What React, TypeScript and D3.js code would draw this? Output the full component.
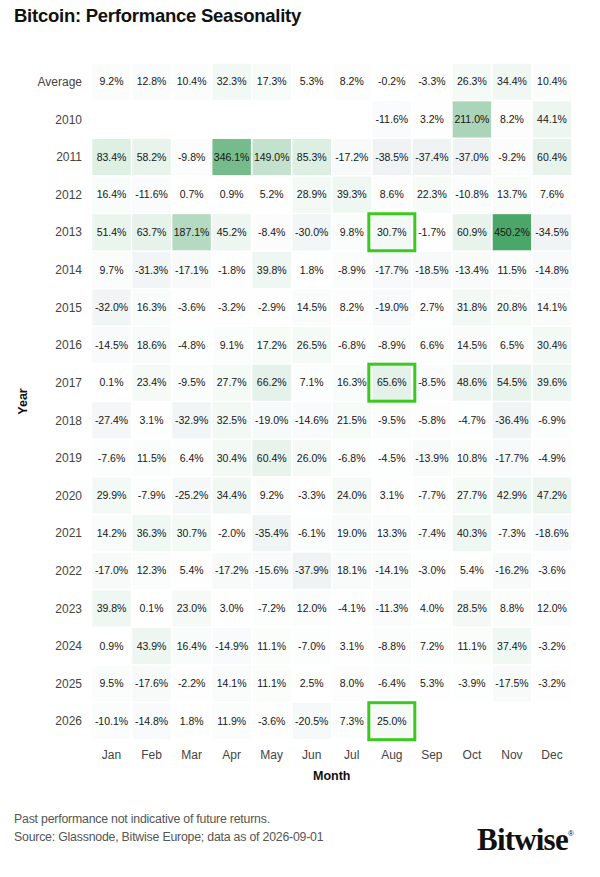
import React from "react";
import * as d3 from "d3";

const months = ["Jan", "Feb", "Mar", "Apr", "May", "Jun", "Jul", "Aug", "Sep", "Oct", "Nov", "Dec"];
const rowLabels = ["Average", "2010", "2011", "2012", "2013", "2014", "2015", "2016", "2017", "2018", "2019", "2020", "2021", "2022", "2023", "2024", "2025", "2026"];

type V = number | null;
const average: V[] = [9.2, 12.8, 10.4, 32.3, 17.3, 5.3, 8.2, -0.2, -3.3, 26.3, 34.4, 10.4];
const y2010: V[] = [null, null, null, null, null, null, null, -11.6, 3.2, 211.0, 8.2, 44.1];
const y2011: V[] = [83.4, 58.2, -9.8, 346.1, 149.0, 85.3, -17.2, -38.5, -37.4, -37.0, -9.2, 60.4];
const y2012: V[] = [16.4, -11.6, 0.7, 0.9, 5.2, 28.9, 39.3, 8.6, 22.3, -10.8, 13.7, 7.6];
const y2013: V[] = [51.4, 63.7, 187.1, 45.2, -8.4, -30.0, 9.8, 30.7, -1.7, 60.9, 450.2, -34.5];
const y2014: V[] = [9.7, -31.3, -17.1, -1.8, 39.8, 1.8, -8.9, -17.7, -18.5, -13.4, 11.5, -14.8];
const y2015: V[] = [-32.0, 16.3, -3.6, -3.2, -2.9, 14.5, 8.2, -19.0, 2.7, 31.8, 20.8, 14.1];
const y2016: V[] = [-14.5, 18.6, -4.8, 9.1, 17.2, 26.5, -6.8, -8.9, 6.6, 14.5, 6.5, 30.4];
const y2017: V[] = [0.1, 23.4, -9.5, 27.7, 66.2, 7.1, 16.3, 65.6, -8.5, 48.6, 54.5, 39.6];
const y2018: V[] = [-27.4, 3.1, -32.9, 32.5, -19.0, -14.6, 21.5, -9.5, -5.8, -4.7, -36.4, -6.9];
const y2019: V[] = [-7.6, 11.5, 6.4, 30.4, 60.4, 26.0, -6.8, -4.5, -13.9, 10.8, -17.7, -4.9];
const y2020: V[] = [29.9, -7.9, -25.2, 34.4, 9.2, -3.3, 24.0, 3.1, -7.7, 27.7, 42.9, 47.2];
const y2021: V[] = [14.2, 36.3, 30.7, -2.0, -35.4, -6.1, 19.0, 13.3, -7.4, 40.3, -7.3, -18.6];
const y2022: V[] = [-17.0, 12.3, 5.4, -17.2, -15.6, -37.9, 18.1, -14.1, -3.0, 5.4, -16.2, -3.6];
const y2023: V[] = [39.8, 0.1, 23.0, 3.0, -7.2, 12.0, -4.1, -11.3, 4.0, 28.5, 8.8, 12.0];
const y2024: V[] = [0.9, 43.9, 16.4, -14.9, 11.1, -7.0, 3.1, -8.8, 7.2, 11.1, 37.4, -3.2];
const y2025: V[] = [9.5, -17.6, -2.2, 14.1, 11.1, 2.5, 8.0, -6.4, 5.3, -3.9, -17.5, -3.2];
const y2026: V[] = [-10.1, -14.8, 1.8, 11.9, -3.6, -20.5, 7.3, 25.0, null, null, null, null];

const rows: V[][] = [average, y2010, y2011, y2012, y2013, y2014, y2015, y2016, y2017, y2018, y2019, y2020, y2021, y2022, y2023, y2024, y2025, y2026];

const highlightRows = ["2013", "2017", "2026"];
const highlightMonths = ["Aug", "Aug", "Aug"];

const titleText = "Bitcoin: Performance Seasonality";
const footnote1 = "Past performance not indicative of future returns.";
const footnote2 = "Source: Glassnode, Bitwise Europe; data as of 2026-09-01";

export default function App() {
  const W = 600;
  const H = 877;
  const x = d3.scaleBand<string>().domain(months).range([91.5, 572]).paddingInner(0.04).paddingOuter(0.02);
  const y = d3.scaleBand<string>().domain(rowLabels).range([63, 740]).paddingInner(0.04).paddingOuter(0.02);

  const all = rows.flat().filter((v): v is number => v !== null);
  const vmax = d3.max(all) as number;
  const vmin = d3.min(all) as number;
  const posColor = d3.scaleLinear<string>().domain([0, vmax]).range(["#ffffff", "#4ba669"]).interpolate(d3.interpolateRgb);
  const negColor = d3.scaleLinear<string>().domain([vmin, 0]).range(["#eff3f4", "#ffffff"]).interpolate(d3.interpolateRgb);
  const color = (v: number) => (v >= 0 ? posColor(v) : negColor(v));

  const font = "'Liberation Sans', Arial, Helvetica, sans-serif";
  const bw = x.bandwidth();
  const bh = y.bandwidth();

  return (
    <svg width={W} height={H} style={{ position: "absolute", left: 0, top: 0, background: "#fff" }} fontFamily={font}>
      <rect x={0} y={0} width={W} height={H} fill="#fff" />
      <text x={14} y={22} fontSize={18.5} fontWeight={700} fill="#111" letterSpacing={-0.25}>
        {titleText}
      </text>

      {rows.map((row, ri) =>
        row.map((v, mi) => {
          if (v === null) return null;
          const cx = (x(months[mi]) as number);
          const cy = (y(rowLabels[ri]) as number);
          return (
            <g key={`${ri}-${mi}`}>
              <rect x={cx} y={cy} width={bw} height={bh} fill={color(v)} />
              <text x={cx + bw / 2} y={cy + bh / 2} dy="0.35em" textAnchor="middle" fontSize={10.5} fill="#161616">
                {`${v.toFixed(1)}%`}
              </text>
            </g>
          );
        })
      )}

      {highlightRows.map((r, i) => {
        const cx = (x(highlightMonths[i]) as number) + bw / 2;
        const cy = (y(r) as number) + bh / 2;
        const hw = 46;
        const hh = 37;
        return (
          <rect key={`hl-${i}`} x={cx - hw / 2} y={cy - hh / 2} width={hw} height={hh} fill="none" stroke="#3cc81e" strokeWidth={3} />
        );
      })}

      {rowLabels.map((r) => (
        <text key={`yl-${r}`} x={82} y={(y(r) as number) + bh / 2} dy="0.35em" textAnchor="end" fontSize={12} fill="#444">
          {r}
        </text>
      ))}

      {months.map((m) => (
        <text key={`xl-${m}`} x={(x(m) as number) + bw / 2} y={759} textAnchor="middle" fontSize={12} fill="#444">
          {m}
        </text>
      ))}

      <text x={(x.range()[0] + x.range()[1]) / 2} y={780} textAnchor="middle" fontSize={12.5} fontWeight={700} fill="#111">
        Month
      </text>
      <text
        transform={`translate(27, ${(y.range()[0] + y.range()[1]) / 2}) rotate(-90)`}
        textAnchor="middle"
        fontSize={12.5}
        fontWeight={700}
        fill="#111"
      >
        Year
      </text>

      <text x={14} y={823} fontSize={12.3} fill="#555" letterSpacing={-0.2}>
        {footnote1}
      </text>
      <text x={14} y={841} fontSize={12.3} fill="#555" letterSpacing={-0.2}>
        {footnote2}
      </text>

      <text x={477} y={850} fontSize={31} fontWeight={700} fill="#111" fontFamily="'Liberation Serif', 'DejaVu Serif', serif" letterSpacing={-0.8}>
        Bitwise
      </text>
      <text x={568} y={836} fontSize={8} fill="#111" fontFamily={font}>
        ®
      </text>
    </svg>
  );
}
